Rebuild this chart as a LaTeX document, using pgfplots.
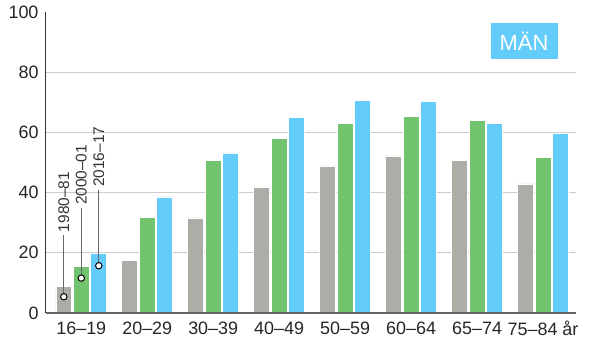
\documentclass[border=0pt]{standalone}
\usepackage{fontspec}
\setmainfont{Liberation Sans}
\usepackage{pgfplots}
\pgfplotsset{compat=1.18}
\definecolor{cgray}{HTML}{ADADA7}
\definecolor{cgreen}{HTML}{72C36E}
\definecolor{cblue}{HTML}{63CCFA}
\definecolor{cgrid}{HTML}{CCCCCC}
\begin{document}
\begin{tikzpicture}
\begin{axis}[name=ax, scale only axis, width=530bp, height=301bp,
  xmin=-0.535, xmax=7.5, ymin=0, ymax=100,
  axis x line=bottom, axis y line=left, axis line style={-},
  x axis line style={draw=black!60, line width=2bp},
  y axis line style={draw=black!80, line width=1bp},
  xtick={0,...,7},
  xticklabels={16–19,20–29,30–39,40–49,50–59,60–64,65–74,75–84 år},
  ytick={0,20,40,60,80}, extra y ticks={100}, extra y tick style={grid=none},
  ymajorgrids, grid style={cgrid, line width=0.8bp},
  major tick length=0pt, tick style={draw=none},
  /pgf/number format/assume math mode=true,
  ticklabel style={font=\fontsize{18}{20}\selectfont, text=black!85},
  xticklabel style={yshift=-5bp},
  yticklabel style={xshift=-4bp},
  clip=false,
]
\addplot[ybar, bar width=0.242, bar shift=-0.265, fill=cgray, draw=white, line width=0.6bp]
  coordinates {(0,8.8) (1,17.6) (2,31.6) (3,41.9) (4,48.9) (5,52.2) (6,50.7) (7,42.9)};
\addplot[ybar, bar width=0.242, bar shift=0, fill=cgreen, draw=white, line width=0.6bp]
  coordinates {(0,15.6) (1,31.7) (2,50.7) (3,58.0) (4,62.9) (5,65.2) (6,64.1) (7,51.7)};
\addplot[ybar, bar width=0.242, bar shift=0.265, fill=cblue, draw=white, line width=0.6bp]
  coordinates {(0,19.9) (1,38.6) (2,53.2) (3,65.0) (4,70.7) (5,70.4) (6,63.0) (7,59.6)};
\draw[black!60, line width=2bp] (rel axis cs:0,0) -- (rel axis cs:1,0);
% leader lines
\addplot[draw=black!60, line width=0.8bp] coordinates {(-0.265,5.4) (-0.265,26)};
\addplot[draw=black!60, line width=0.8bp] coordinates {(0,11.6) (0,35)};
\addplot[draw=black!60, line width=0.8bp] coordinates {(0.265,15.7) (0.265,41)};
\addplot[only marks, mark=*, mark size=3.2bp, mark options={fill=white, draw=black, line width=1bp}]
  coordinates {(-0.265,5.4) (0,11.6) (0.265,15.7)};
\node[rotate=90, anchor=west, inner sep=1bp, font=\fontsize{15.5}{17}\selectfont, text=black!80] at (axis cs:-0.265,26.5) {1980–81};
\node[rotate=90, anchor=west, inner sep=1bp, font=\fontsize{15.5}{17}\selectfont, text=black!80] at (axis cs:0,35.5) {2000–01};
\node[rotate=90, anchor=west, inner sep=1bp, font=\fontsize{15.5}{17}\selectfont, text=black!80] at (axis cs:0.265,41.5) {2016–17};
\node[fill=cblue, text=white, minimum width=67bp, minimum height=36bp, inner sep=0pt,
  font=\fontsize{22}{24}\selectfont] at (axis cs:6.712,90.2) {MÄN};
\end{axis}
\pgfresetboundingbox
\path ([shift={(-46bp,-42bp)}]ax.south west) rectangle ([shift={(24bp,12bp)}]ax.north east);
\end{tikzpicture}
\end{document}
